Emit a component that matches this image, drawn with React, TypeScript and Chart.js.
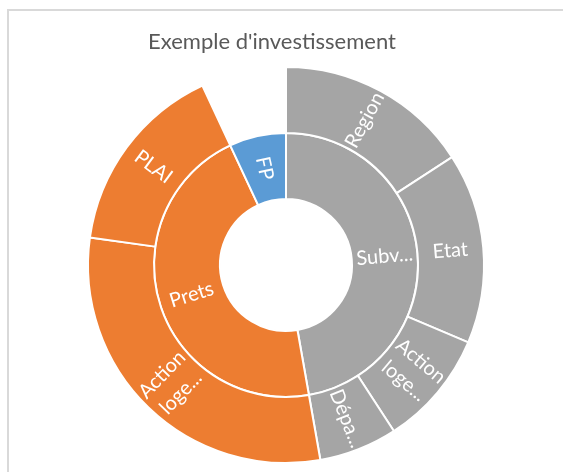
import React, { useEffect, useRef } from "react";
import { Chart, registerables } from "chart.js";

Chart.register(...registerables);

const TITLE = "Exemple d'investissement";

// Level 1 (inner ring)
const innerLabels = ["Subv...", "Prets", "FP"];
const innerColors = ["#A5A5A5", "#ED7D31", "#5B9BD5"];

// Level 2 (outer ring), children of each level-1 category
const subvLabels = ["Region", "Etat", "Action\nloge...", "Dépa..."];
const subvValues = [57, 56, 34, 23];
const pretsLabels = ["Action\nloge...", "PLAI"];
const pretsValues = [108, 57];
const fpValues = [25];

const sum = (a: number[]) => a.reduce((s, v) => s + v, 0);

const innerValues = [sum(subvValues), sum(pretsValues), sum(fpValues)];
const outerValues = [...subvValues, ...pretsValues, sum(fpValues)];
const outerLabels = [...subvLabels, ...pretsLabels, ""];
const outerColors = [
  ...subvValues.map(() => innerColors[0]),
  ...pretsValues.map(() => innerColors[1]),
  "rgba(0,0,0,0)",
];
const outerBorders = [...subvValues.map(() => 2), ...pretsValues.map(() => 2), 0];

const LABEL_FONT = "20px Lato";
const TITLE_FONT = "22px Lato";

const sunLabelsPlugin = {
  id: "sunLabels",
  afterDatasetsDraw(chart: any, _args: any, opts: any) {
    const ctx = chart.ctx as CanvasRenderingContext2D;
    const sets: string[][] = opts.labels || [];
    chart.data.datasets.forEach((_ds: any, di: number) => {
      const meta = chart.getDatasetMeta(di);
      const labels = sets[di] || [];
      meta.data.forEach((arc: any, i: number) => {
        const text = labels[i];
        if (!text) return;
        const p = arc.getProps(
          ["x", "y", "startAngle", "endAngle", "innerRadius", "outerRadius"],
          true
        );
        const mid = (p.startAngle + p.endAngle) / 2;
        const r = (p.innerRadius + p.outerRadius) / 2;
        const x = p.x + Math.cos(mid) * r;
        const y = p.y + Math.sin(mid) * r;
        let rot = Math.atan2(Math.sin(mid), Math.cos(mid));
        if (rot > Math.PI / 2) rot -= Math.PI;
        if (rot < -Math.PI / 2) rot += Math.PI;
        ctx.save();
        ctx.translate(x, y);
        ctx.rotate(rot);
        ctx.fillStyle = "#ffffff";
        ctx.font = LABEL_FONT;
        ctx.textAlign = "center";
        ctx.textBaseline = "middle";
        const lines = text.split("\n");
        const lh = 26;
        lines.forEach((l, k) => ctx.fillText(l, 0, (k - (lines.length - 1) / 2) * lh));
        ctx.restore();
      });
    });
  },
};

const titlePlugin = {
  id: "customTitle",
  afterDraw(chart: any, _args: any, opts: any) {
    const ctx = chart.ctx as CanvasRenderingContext2D;
    ctx.save();
    ctx.fillStyle = "#595959";
    ctx.font = TITLE_FONT;
    ctx.textAlign = "center";
    ctx.textBaseline = "alphabetic";
    ctx.fillText(opts.text, opts.x, opts.y);
    ctx.restore();
  },
};

export default function App() {
  const ref = useRef<HTMLCanvasElement | null>(null);

  useEffect(() => {
    if (!ref.current) return;
    const chart = new Chart(ref.current, {
      type: "doughnut",
      data: {
        labels: outerLabels,
        datasets: [
          {
            data: outerValues,
            backgroundColor: outerColors,
            borderColor: "#ffffff",
            borderWidth: outerBorders,
          },
          {
            data: innerValues,
            backgroundColor: innerColors,
            borderColor: "#ffffff",
            borderWidth: 2,
          },
        ],
      },
      options: {
        animation: false,
        responsive: false,
        events: [],
        radius: 198,
        cutout: "33.33%",
        layout: { padding: { left: 88, right: 79, top: 67, bottom: 9 } },
        plugins: {
          legend: { display: false },
          tooltip: { enabled: false },
          title: { display: false },
          sunLabels: { labels: [outerLabels, innerLabels] },
          customTitle: { text: TITLE, x: 272, y: 49 },
        } as any,
      },
      plugins: [sunLabelsPlugin, titlePlugin],
    });
    return () => chart.destroy();
  }, []);

  return (
    <div
      style={{
        position: "absolute",
        left: 0,
        top: 0,
        width: 563,
        height: 472,
        overflow: "hidden",
        background: "#ffffff",
      }}
    >
      <div
        style={{
          position: "absolute",
          left: 7,
          top: 9,
          width: 600,
          height: 500,
          borderLeft: "2px solid #d9d9d9",
          borderTop: "2px solid #d9d9d9",
          boxSizing: "border-box",
        }}
      />
      <canvas
        ref={ref}
        width={563}
        height={472}
        style={{ position: "absolute", left: 0, top: 0, width: 563, height: 472 }}
      />
    </div>
  );
}
